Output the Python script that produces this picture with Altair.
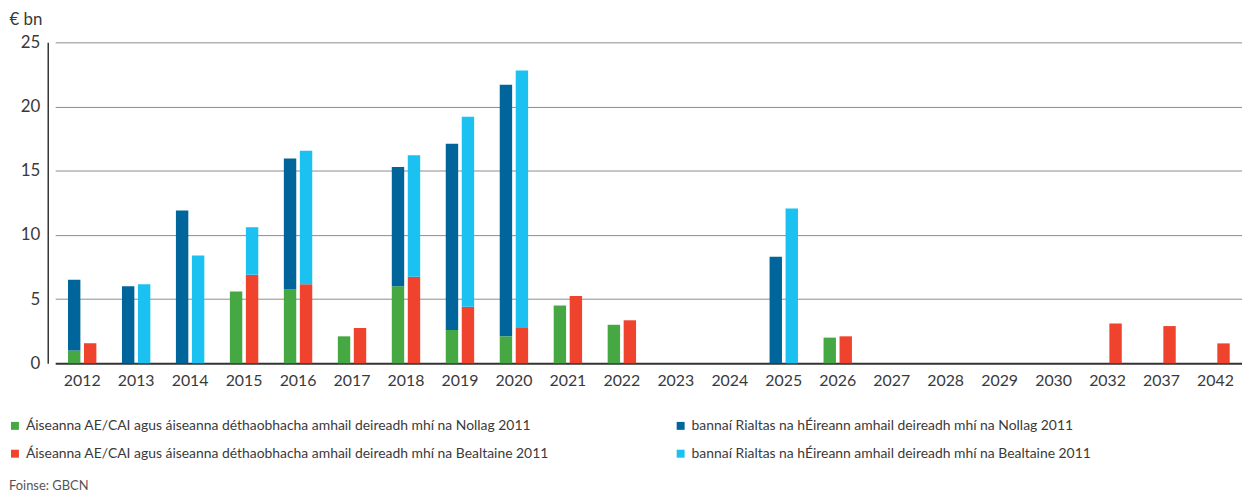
import altair as alt
import pandas as pd

years = ["2012", "2013", "2014", "2015", "2016", "2017", "2018", "2019", "2020", "2021",
         "2022", "2023", "2024", "2025", "2026", "2027", "2028", "2029", "2030", "2032",
         "2037", "2042"]
# End-December 2011 profile
eu_dec =    [1.0, 0, 0, 5.6, 5.75, 2.1, 6.0, 2.6, 2.1, 4.5, 3.0, 0, 0, 0,   2.0, 0, 0, 0, 0, 0, 0, 0]
bonds_dec = [5.5, 6.0, 11.9, 0, 10.2, 0, 9.3, 14.5, 19.6, 0, 0, 0, 0, 8.3, 0, 0, 0, 0, 0, 0, 0, 0]
# End-May 2011 profile
eu_may =    [1.5, 0, 0, 6.9, 6.15, 2.75, 6.75, 4.4, 2.75, 5.25, 3.35, 0, 0, 0, 2.1, 0, 0, 0, 0, 3.1, 2.9, 1.55]
bonds_may = [0.08, 6.15, 8.4, 3.7, 10.4, 0, 9.45, 14.8, 20.05, 0, 0, 0, 0, 12.05, 0, 0, 0, 0, 0, 0, 0, 0]

lab_eu_dec = "Áiseanna AE/CAI agus áiseanna déthaobhacha amhail deireadh mhí na Nollag 2011"
lab_bonds_dec = "bannaí Rialtas na hÉireann amhail deireadh mhí na Nollag 2011"
lab_eu_may = "Áiseanna AE/CAI agus áiseanna déthaobhacha amhail deireadh mhí na Bealtaine 2011"
lab_bonds_may = "bannaí Rialtas na hÉireann amhail deireadh mhí na Bealtaine 2011"
# legend fills column by column
legend_order = [lab_eu_dec, lab_eu_may, lab_bonds_dec, lab_bonds_may]
legend_colors = ["#46A843", "#F0432E", "#00659A", "#1BC1F1"]
source_text = "Foinse: GBCN"

rows = []
for i, y in enumerate(years):
    for vint, parts in (("Dec", ((lab_eu_dec, eu_dec), (lab_bonds_dec, bonds_dec))),
                        ("May", ((lab_eu_may, eu_may), (lab_bonds_may, bonds_may)))):
        for order, (lab, arr) in enumerate(parts):
            rows.append({"year": y, "vintage": vint, "order": order,
                         "series": lab, "value": arr[i]})
df = pd.DataFrame(rows)

FONT = "Lato"
TXT = "#3a3a3a"

bars = alt.Chart(df).transform_filter(
    "datum.value > 0"
).transform_stack(
    stack="value", groupby=["year", "vintage"], as_=["y0", "y1"],
    sort=[alt.SortField("order", order="ascending")]
).mark_bar().encode(
    x=alt.X("year:N", sort=years,
            scale=alt.Scale(domain=years, range=[7.5, 1202.5], paddingInner=0, paddingOuter=0),
            axis=alt.Axis(title=None, labelAngle=0, ticks=False, domain=False,
                          labelFontSize=16, labelColor=TXT, labelFont=FONT,
                          labelPadding=9)),
    xOffset=alt.XOffset("vintage:N", sort=["Dec", "May"],
                        scale=alt.Scale(domain=["Dec", "May"], paddingInner=0.224, paddingOuter=0.8)),
    y=alt.Y("y1:Q",
            scale=alt.Scale(domain=[0, 25], nice=False),
            axis=alt.Axis(values=[0, 5, 10, 15, 20, 25], ticks=False,
                          labelFontSize=17, labelColor=TXT, labelFont=FONT,
                          labelPadding=8,
                          domainColor="#333333", domainWidth=1.5,
                          gridColor={"condition": {"test": "datum.value === 0", "value": "#333333"},
                                     "value": "#8c8c8c"},
                          gridWidth={"condition": {"test": "datum.value === 0", "value": 2},
                                     "value": 1},
                          title="€ bn", titleAngle=0, titleAlign="left",
                          titleBaseline="alphabetic", titleX=-39, titleY=-18,
                          titleFontSize=17, titleFontWeight="normal",
                          titleColor=TXT, titleFont=FONT)),
    y2="y0:Q",
    color=alt.Color("series:N",
                    scale=alt.Scale(domain=legend_order, range=legend_colors),
                    legend=alt.Legend(title=None, orient="none", legendX=-40, legendY=379,
                                      columns=2, columnPadding=125, rowPadding=14,
                                      symbolType="square", symbolSize=64,
                                      symbolStrokeWidth=0, symbolOffset=0,
                                      labelFontSize=14, labelColor=TXT, labelFont=FONT,
                                      labelOffset=4, labelLimit=700)),
)

src = alt.Chart(alt.Data(values=[{"t": source_text}])).mark_text(
    align="left", baseline="alphabetic", fontSize=13, color="#555555", font=FONT
).encode(x=alt.value(-39), y=alt.value(451), text="t:N")

chart = alt.layer(bars, src).properties(
    width=1195, height=323,
    autosize=alt.AutoSizeParams(type="none"),
    padding={"left": 40, "top": 33, "right": 7, "bottom": 133},
).configure_view(stroke=None)

chart.save("out.html", embed_options={"renderer": "svg", "actions": False})
